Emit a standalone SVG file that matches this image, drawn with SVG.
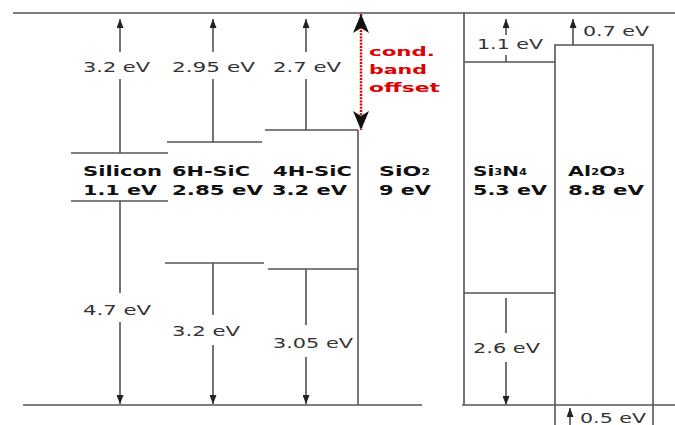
<svg xmlns="http://www.w3.org/2000/svg" width="675" height="425" viewBox="0 0 675 425">
<defs>
<style>
.ln{stroke:#555;stroke-width:1.6;fill:none}
.ar{stroke:#444;stroke-width:1.5;fill:none}
.lbl{font-family:"DejaVu Sans",sans-serif;font-size:14px;fill:#333}
.nm{font-family:"DejaVu Sans",sans-serif;font-size:14px;font-weight:bold;fill:#111}
.red{font-family:"DejaVu Sans",sans-serif;font-size:13px;font-weight:bold;fill:#e00000}
.sub{font-size:8px}
</style>
<marker id="ah" markerUnits="userSpaceOnUse" markerWidth="9" markerHeight="7" refX="9" refY="3.5" orient="auto" viewBox="0 0 9 7">
<path d="M0,0 L9,3.5 L0,7 Z" fill="#222"/>
</marker>
<marker id="bh" markerUnits="userSpaceOnUse" markerWidth="19" markerHeight="16" refX="19" refY="8" orient="auto-start-reverse" viewBox="0 0 19 16">
<path d="M0,0 L19,8 L0,16 L5,8 Z" fill="#111"/>
</marker>
</defs>
<rect width="675" height="425" fill="#fff"/>

<g id="connectors">
<line class="ar" x1="120" y1="153" x2="120" y2="79"/>
<line class="ar" x1="120" y1="52" x2="120" y2="19" marker-end="url(#ah)"/>
<line class="ar" x1="120" y1="201" x2="120" y2="293"/>
<line class="ar" x1="120" y1="322" x2="120" y2="404" marker-end="url(#ah)"/>
<line class="ar" x1="213" y1="142" x2="213" y2="79"/>
<line class="ar" x1="213" y1="52" x2="213" y2="19" marker-end="url(#ah)"/>
<line class="ar" x1="213" y1="263" x2="213" y2="315"/>
<line class="ar" x1="213" y1="345" x2="213" y2="404" marker-end="url(#ah)"/>
<line class="ar" x1="306" y1="130" x2="306" y2="79"/>
<line class="ar" x1="306" y1="52" x2="306" y2="19" marker-end="url(#ah)"/>
<line class="ar" x1="306" y1="269" x2="306" y2="325"/>
<line class="ar" x1="306" y1="357" x2="306" y2="404" marker-end="url(#ah)"/>
<line class="ar" x1="506" y1="62" x2="506" y2="55"/>
<line class="ar" x1="506" y1="35" x2="506" y2="19" marker-end="url(#ah)"/>
<line class="ar" x1="506" y1="298" x2="506" y2="333"/>
<line class="ar" x1="506" y1="362" x2="506" y2="405" marker-end="url(#ah)"/>
<line class="ar" x1="573" y1="45" x2="573" y2="19" marker-end="url(#ah)"/>
<line class="ar" x1="570" y1="425" x2="570" y2="408" marker-end="url(#ah)"/>
<line x1="361" y1="14" x2="361" y2="130" stroke="#e00000" stroke-width="2.5" stroke-dasharray="2,1.2" marker-start="url(#bh)" marker-end="url(#bh)"/>
</g>

<g id="frame">
<line class="ln" x1="13" y1="13" x2="675" y2="13"/>
<line class="ln" x1="23" y1="405" x2="422" y2="405"/>
<line class="ln" x1="462" y1="405" x2="675" y2="405"/>
</g>

<g id="silicon">
<line class="ln" x1="71" y1="153" x2="168" y2="153"/>
<line class="ln" x1="71" y1="201" x2="168" y2="201"/>
<text class="nm" x="83" y="176" textLength="79" lengthAdjust="spacingAndGlyphs">Silicon</text>
<text class="nm" x="83" y="195" textLength="74" lengthAdjust="spacingAndGlyphs">1.1 eV</text>
<text class="lbl" x="83" y="72" textLength="67" lengthAdjust="spacingAndGlyphs">3.2 eV</text>
<text class="lbl" x="83" y="315" textLength="68" lengthAdjust="spacingAndGlyphs">4.7 eV</text>
</g>

<g id="sic6h">
<line class="ln" x1="167" y1="142" x2="262" y2="142"/>
<line class="ln" x1="165" y1="263" x2="264" y2="263"/>
<text class="nm" x="172" y="176" textLength="78" lengthAdjust="spacingAndGlyphs">6H-SiC</text>
<text class="nm" x="172" y="195" textLength="91" lengthAdjust="spacingAndGlyphs">2.85 eV</text>
<text class="lbl" x="172" y="72" textLength="83" lengthAdjust="spacingAndGlyphs">2.95 eV</text>
<text class="lbl" x="172" y="336" textLength="68" lengthAdjust="spacingAndGlyphs">3.2 eV</text>
</g>

<g id="sic4h">
<line class="ln" x1="265" y1="130" x2="358" y2="130"/>
<line class="ln" x1="268" y1="269" x2="358" y2="269"/>
<text class="nm" x="273" y="176" textLength="79" lengthAdjust="spacingAndGlyphs">4H-SiC</text>
<text class="nm" x="272" y="195" textLength="75" lengthAdjust="spacingAndGlyphs">3.2 eV</text>
<text class="lbl" x="273" y="72" textLength="68" lengthAdjust="spacingAndGlyphs">2.7 eV</text>
<text class="lbl" x="273" y="348" textLength="80" lengthAdjust="spacingAndGlyphs">3.05 eV</text>
</g>

<g id="sio2">
<line class="ln" x1="358" y1="130" x2="358" y2="405"/>
<line class="ln" x1="464" y1="13" x2="464" y2="405"/>
<text class="nm" x="379" y="176" textLength="51" lengthAdjust="spacingAndGlyphs">SiO<tspan class="sub" dy="-1">2</tspan></text>
<text class="nm" x="379" y="195" textLength="52" lengthAdjust="spacingAndGlyphs">9 eV</text>
<text class="red" x="369" y="56" textLength="66" lengthAdjust="spacingAndGlyphs">cond.</text>
<text class="red" x="369" y="74" textLength="58" lengthAdjust="spacingAndGlyphs">band</text>
<text class="red" x="369" y="92" textLength="71" lengthAdjust="spacingAndGlyphs">offset</text>
</g>

<g id="si3n4">
<line class="ln" x1="464" y1="62" x2="555" y2="62"/>
<line class="ln" x1="464" y1="293" x2="555" y2="293"/>
<text class="nm" x="473" y="176" textLength="54" lengthAdjust="spacingAndGlyphs">Si<tspan class="sub" dy="-1">3</tspan><tspan dy="1">N</tspan><tspan class="sub" dy="-1">4</tspan></text>
<text class="nm" x="473" y="195" textLength="74" lengthAdjust="spacingAndGlyphs">5.3 eV</text>
<text class="lbl" x="477" y="49" textLength="66" lengthAdjust="spacingAndGlyphs">1.1 eV</text>
<text class="lbl" x="473" y="353" textLength="67" lengthAdjust="spacingAndGlyphs">2.6 eV</text>
</g>

<g id="al2o3">
<path class="ln" d="M555,425 L555,45 L653,45 L653,425"/>
<text class="nm" x="568" y="176" textLength="57" lengthAdjust="spacingAndGlyphs">Al<tspan class="sub" dy="-1">2</tspan><tspan dy="1">O</tspan><tspan class="sub" dy="-1">3</tspan></text>
<text class="nm" x="568" y="195" textLength="76" lengthAdjust="spacingAndGlyphs">8.8 eV</text>
<text class="lbl" x="583" y="36" textLength="66" lengthAdjust="spacingAndGlyphs">0.7 eV</text>
<text class="lbl" x="580" y="423" textLength="66" lengthAdjust="spacingAndGlyphs">0.5 eV</text>
</g>
</svg>
